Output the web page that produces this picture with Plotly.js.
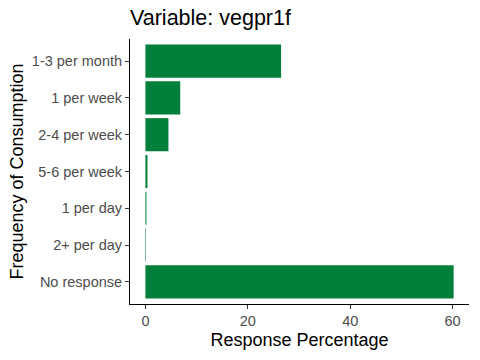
<!DOCTYPE html>
<html><head><meta charset="utf-8">
<script src="https://cdn.plot.ly/plotly-3.0.1.min.js"></script>
<style>html,body{margin:0;padding:0;background:#fff}</style>
</head><body>
<div id="chart" style="width:480px;height:360px"></div>
<script>
const categories = ["1-3 per month","1 per week","2-4 per week","5-6 per week","1 per day","2+ per day","No response"];
const percentages = [26.5, 6.8, 4.5, 0.4, 0.2, 0.1, 60.2];
const xTicks = [0, 20, 40, 60];

const trace = {
  type: 'bar', orientation: 'h',
  x: percentages, y: categories,
  width: 0.9,
  marker: {color: '#00803A', line: {width: 0}},
  hoverinfo: 'x+y'
};
const layout = {
  width: 480, height: 360,
  margin: {l: 130, r: 11, t: 39, b: 56},
  paper_bgcolor: '#fff', plot_bgcolor: '#fff',
  font: {family: 'Liberation Sans, Arial, sans-serif'},
  title: {text: 'Variable: vegpr1f', x: 130/480, xanchor: 'left', y: 0.952, yanchor: 'middle',
          font: {size: 21.5, color: '#000'}},
  xaxis: {
    range: [-3.01, 63.2], tickvals: xTicks, ticktext: xTicks.map(String),
    showgrid: false, zeroline: false, showline: true, linecolor: '#000', linewidth: 1,
    ticks: 'outside', ticklen: 4, tickcolor: '#333', tickfont: {size: 14.5, color: '#4D4D4D'},
    title: {text: 'Response Percentage', font: {size: 18, color: '#000'}, standoff: 4}
  },
  yaxis: {
    categoryorder: 'array', categoryarray: categories, autorange: false,
    range: [6.6, -0.6],
    showgrid: false, zeroline: false, showline: true, linecolor: '#000', linewidth: 1,
    ticks: 'outside', ticklen: 4, tickcolor: '#333', tickfont: {size: 14.5, color: '#4D4D4D'},
    title: {text: 'Frequency of Consumption', font: {size: 18, color: '#000'}, standoff: 3}
  },
  showlegend: false
};
Plotly.newPlot('chart', [trace], layout, {displayModeBar: false, staticPlot: true});
</script>
</body></html>
